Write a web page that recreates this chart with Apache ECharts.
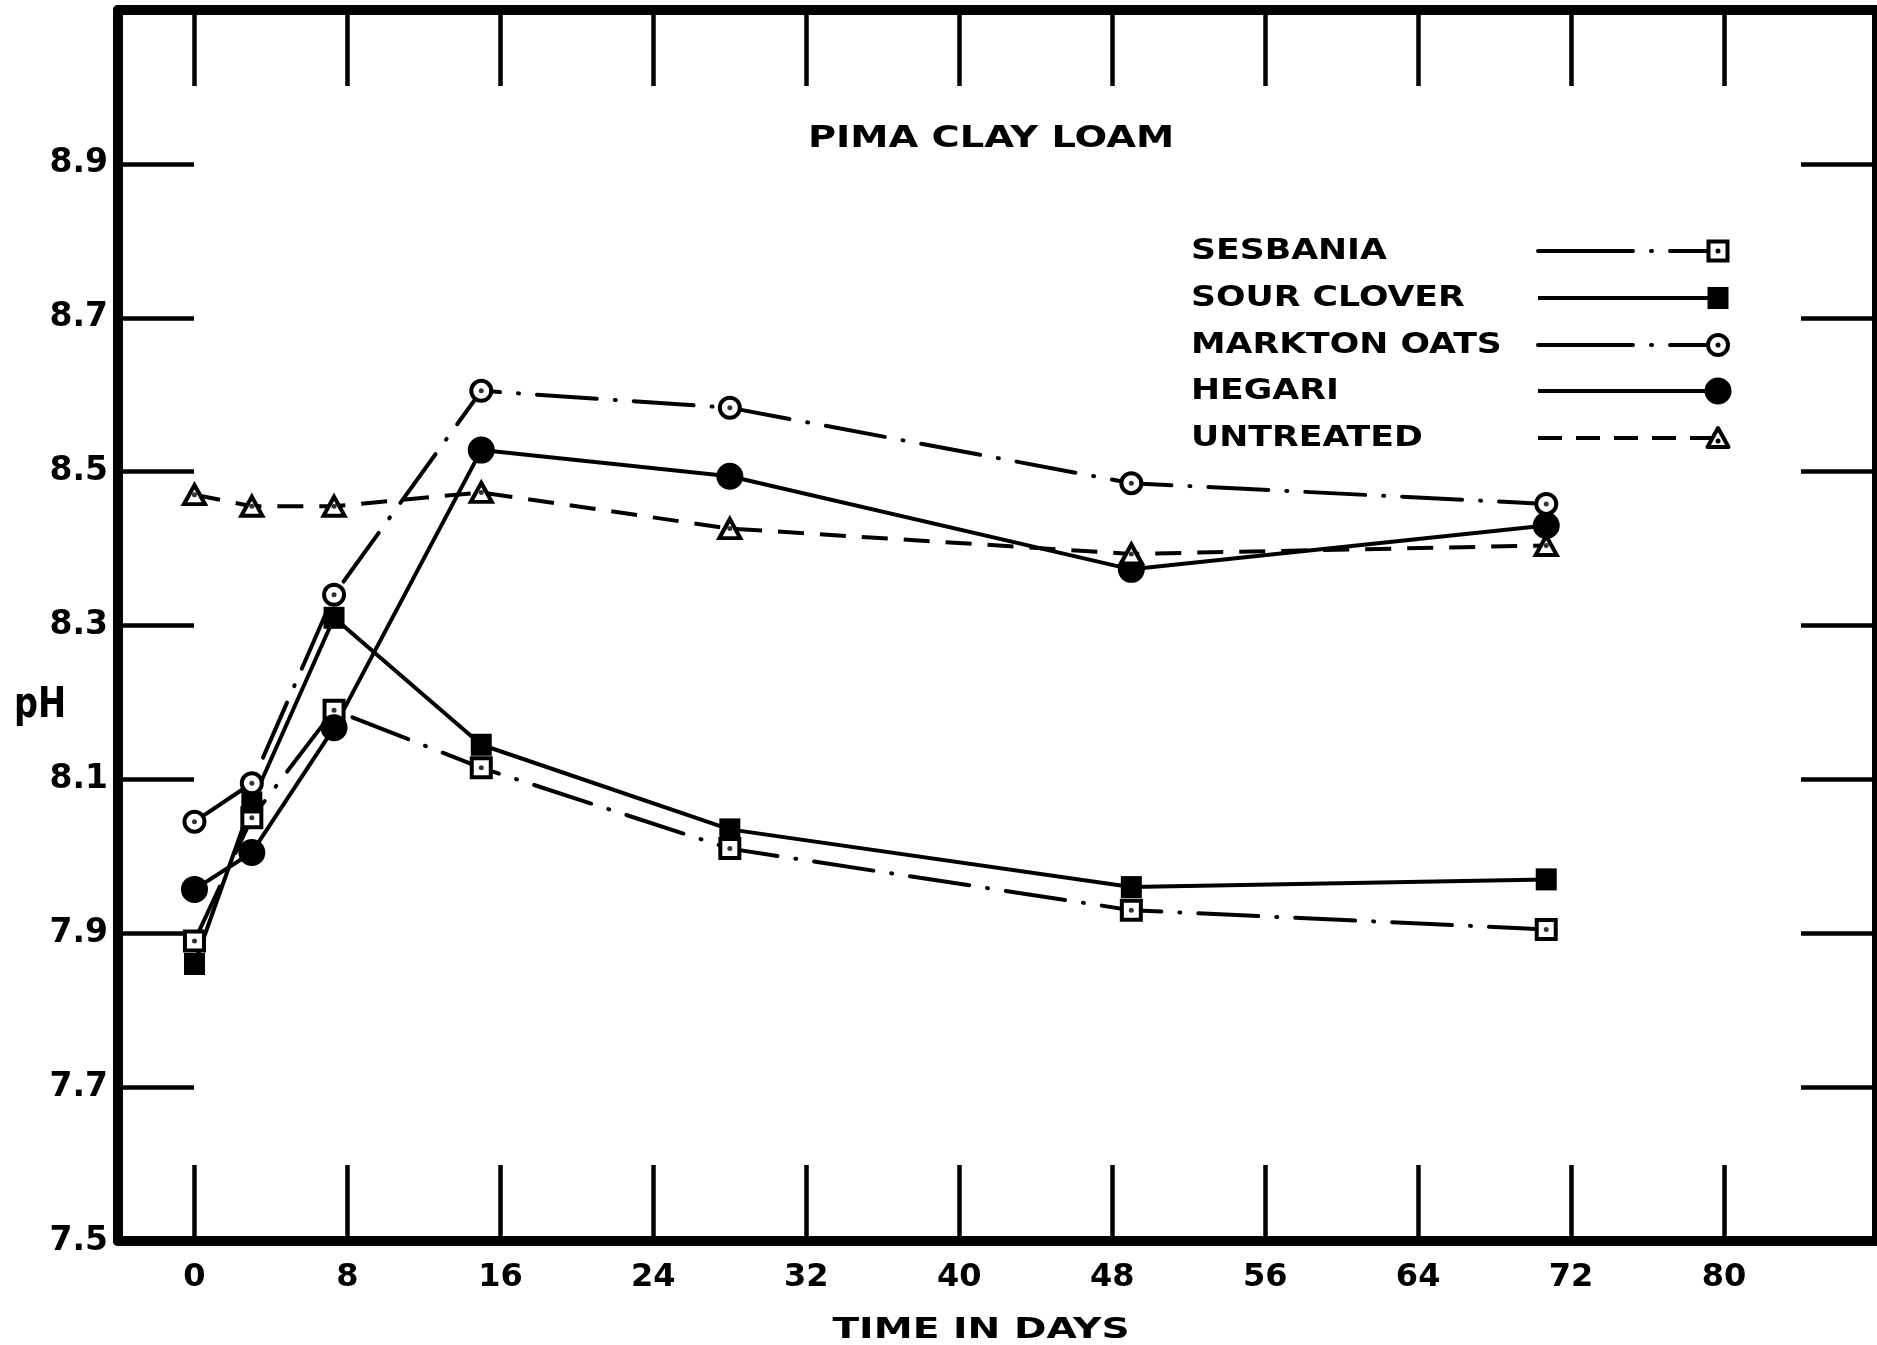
<!DOCTYPE html>
<html>
<head>
<meta charset="utf-8">
<script src="https://cdn.jsdelivr.net/npm/echarts@6/dist/echarts.min.js"></script>
<style>
  html, body { margin: 0; padding: 0; background: #fff; }
  #chart { width: 1877px; height: 1345px; }
</style>
</head>
<body>
<div id="chart"></div>
<script>
// ---- data ----
const days = [0, 3, 7.3, 15, 28, 49, 70.7];
const sesbania    = [7.89, 8.05, 8.19, 8.115, 8.01, 7.93, 7.905];
const sourClover  = [7.86, 8.07, 8.31, 8.145, 8.035, 7.96, 7.97];
const marktonOats = [8.045, 8.095, 8.34, 8.605, 8.583, 8.485, 8.458];
const hegari      = [7.957, 8.005, 8.167, 8.528, 8.494, 8.373, 8.43];
const untreated   = [8.47, 8.455, 8.455, 8.473, 8.426, 8.393, 8.404];

const xTicks = [0, 8, 16, 24, 32, 40, 48, 56, 64, 72, 80];
const xTickLabels = ['0', '8', '16', '24', '32', '40', '48', '56', '64', '72', '80'];
const yTicks = [7.5, 7.7, 7.9, 8.1, 8.3, 8.5, 8.7, 8.9];
const yTickLabels = ['7.5', '7.7', '7.9', '8.1', '8.3', '8.5', '8.7', '8.9'];

const seriesNames = ['SESBANIA', 'SOUR CLOVER', 'MARKTON OATS', 'HEGARI', 'UNTREATED'];
const titleText = 'PIMA CLAY LOAM';
const xName = 'TIME IN DAYS';
const yName = 'pH';

// ---- styling ----
const FONT = 'DejaVu Sans';
const INK = '#000';
const DASH_DOT = [60, 18, 1, 18];
const DASHED = [26, 16];
const LW = 4;

function pairs(vals) { return days.map((d, i) => [d, vals[i]]); }
function labelFor(ticks, labels, v) {
  const i = ticks.findIndex(t => Math.abs(t - v) < 1e-6);
  return i >= 0 ? labels[i] : '';
}

const lineSeries = [
  { name: seriesNames[0], data: pairs(sesbania), symbol: 'rect', symbolSize: 19,
    lineStyle: { color: INK, width: LW, type: DASH_DOT, cap: 'round' },
    itemStyle: { color: '#fff', borderColor: INK, borderWidth: 4 } },
  { name: seriesNames[1], data: pairs(sourClover), symbol: 'rect', symbolSize: [21, 22],
    lineStyle: { color: INK, width: LW, type: 'solid' },
    itemStyle: { color: INK, borderWidth: 0 } },
  { name: seriesNames[2], data: pairs(marktonOats), symbol: 'circle', symbolSize: 20,
    lineStyle: { color: INK, width: LW, type: DASH_DOT, cap: 'round' },
    itemStyle: { color: '#fff', borderColor: INK, borderWidth: 4 } },
  { name: seriesNames[3], data: pairs(hegari), symbol: 'circle', symbolSize: 27,
    lineStyle: { color: INK, width: LW, type: 'solid' },
    itemStyle: { color: INK, borderWidth: 0 } },
  { name: seriesNames[4], data: pairs(untreated), symbol: 'triangle', symbolSize: [21, 19],
    lineStyle: { color: INK, width: LW, type: DASHED },
    itemStyle: { color: '#fff', borderColor: INK, borderWidth: 4 } }
].map(s => Object.assign({ type: 'line', showSymbol: true, xAxisIndex: 0, yAxisIndex: 0,
  emphasis: { disabled: true }, silent: true, z: 3 }, s));

// centre dots of the open markers
const dotSeries = [sesbania, marktonOats, untreated].map((vals, k) => ({
  type: 'scatter', name: 'dot' + k, data: pairs(vals), symbol: 'circle', symbolSize: 5,
  itemStyle: { color: INK }, silent: true, z: 5, xAxisIndex: 0, yAxisIndex: 0
}));

// ---- texts and legend drawn as graphic ----
function wideText(text, x, y, size, scaleX, align, weight) {
  return { type: 'text', silent: true, x: x, y: y, scaleX: scaleX, scaleY: 1,
    style: { text: text, x: 0, y: 0, fontFamily: FONT, fontSize: size, fontWeight: weight || 'bold',
      fill: INK, align: align, verticalAlign: 'middle' } };
}

const graphics = [];
graphics.push(wideText(titleText, 991, 139, 30, 1.28, 'center'));
graphics.push(wideText(xName, 981, 1330, 29, 1.35, 'center'));
graphics.push(wideText(yName, 14, 706, 42, 0.8, 'left'));

const legendRows = [251, 298, 345, 391, 438];
const legTextX = 1191, legX1 = 1538, legX2 = 1718;
const legDash = [[95, 18, 1, 18], null, [95, 18, 1, 18], null, [24, 14]];
seriesNames.forEach((nm, i) => {
  const y = legendRows[i];
  graphics.push(wideText(nm, legTextX, y + 1, 28, 1.24, 'left'));
  graphics.push({ type: 'line', silent: true,
    shape: { x1: legX1, y1: y, x2: legX2, y2: y },
    style: { stroke: INK, lineWidth: LW, lineDash: legDash[i], lineCap: legDash[i] && legDash[i].length === 4 ? 'round' : 'butt' } });
  let marker;
  if (i === 0) marker = { type: 'rect', shape: { x: legX2 - 9.5, y: y - 9.5, width: 19, height: 19 }, style: { fill: '#fff', stroke: INK, lineWidth: 4 } };
  if (i === 1) marker = { type: 'rect', shape: { x: legX2 - 10.5, y: y - 11, width: 21, height: 22 }, style: { fill: INK } };
  if (i === 2) marker = { type: 'circle', shape: { cx: legX2, cy: y, r: 10 }, style: { fill: '#fff', stroke: INK, lineWidth: 4 } };
  if (i === 3) marker = { type: 'circle', shape: { cx: legX2, cy: y, r: 13.5 }, style: { fill: INK } };
  if (i === 4) marker = { type: 'polygon', shape: { points: [[legX2, y - 10], [legX2 + 10.5, y + 9], [legX2 - 10.5, y + 9]] }, style: { fill: '#fff', stroke: INK, lineWidth: 4, lineJoin: 'round' } };
  marker.silent = true;
  graphics.push(marker);
  if (i === 0 || i === 2 || i === 4) {
    graphics.push({ type: 'circle', silent: true, shape: { cx: legX2, cy: i === 4 ? y + 3 : y, r: 2.5 }, style: { fill: INK } });
  }
});

const FRAME = 10;
const TICK_LEN = 76;
const TICK_W = 4.5;

const option = {
  backgroundColor: '#fff',
  animation: false,
  grid: { left: 118, right: -8, top: 10, bottom: 104, containLabel: false },
  xAxis: [
    { type: 'value', position: 'bottom', min: -4, max: 88,
      axisLine: { show: true, onZero: false, lineStyle: { color: INK, width: FRAME } },
      axisTick: { show: true, inside: true, length: TICK_LEN, customValues: xTicks, lineStyle: { color: INK, width: TICK_W } },
      axisLabel: { show: true, customValues: xTicks, margin: 21, fontFamily: FONT, fontSize: 32, fontWeight: 'bold', color: INK,
        formatter: v => labelFor(xTicks, xTickLabels, v) },
      splitLine: { show: false } },
    { type: 'value', position: 'top', min: -4, max: 88,
      axisLine: { show: true, onZero: false, lineStyle: { color: INK, width: FRAME } },
      axisTick: { show: true, inside: true, length: TICK_LEN, customValues: xTicks, lineStyle: { color: INK, width: TICK_W } },
      axisLabel: { show: false },
      splitLine: { show: false } }
  ],
  yAxis: [
    { type: 'value', position: 'left', min: 7.5, max: 9.1,
      axisLine: { show: true, onZero: false, lineStyle: { color: INK, width: FRAME } },
      axisTick: { show: true, inside: true, length: TICK_LEN, customValues: yTicks, lineStyle: { color: INK, width: TICK_W } },
      axisLabel: { show: true, customValues: yTicks, margin: 10, fontFamily: FONT, fontSize: 33, fontWeight: 'bold', color: INK,
        formatter: v => labelFor(yTicks, yTickLabels, v) },
      splitLine: { show: false } },
    { type: 'value', position: 'right', min: 7.5, max: 9.1,
      axisLine: { show: true, onZero: false, lineStyle: { color: INK, width: FRAME } },
      axisTick: { show: true, inside: true, length: TICK_LEN, customValues: yTicks, lineStyle: { color: INK, width: TICK_W } },
      axisLabel: { show: false },
      splitLine: { show: false } }
  ],
  graphic: graphics,
  series: lineSeries.concat(dotSeries)
};

const chart = echarts.init(document.getElementById('chart'), null, { renderer: 'canvas' });
chart.setOption(option);
</script>
</body>
</html>
